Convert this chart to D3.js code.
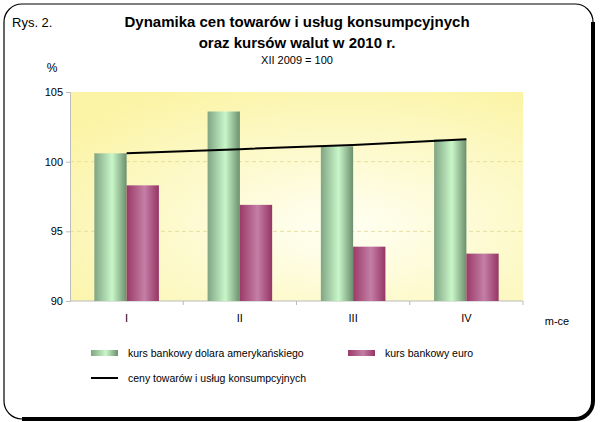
<!DOCTYPE html>
<html>
<head>
<meta charset="utf-8">
<script src="https://cdn.jsdelivr.net/npm/d3@7"></script>
<style>
  body { margin: 0; background: #fff; }
  svg text { font-family: "Liberation Sans", Arial, sans-serif; }
</style>
</head>
<body>
<div id="chart"></div>
<script>
const months = ["I", "II", "III", "IV"]
const usd = [100.6, 103.6, 101.1, 101.6]
const eur = [98.3, 96.9, 93.9, 93.4]
const cpi = [100.6, 100.9, 101.2, 101.6]
const yTicks = [90, 95, 100, 105]

const W = 600, H = 422
const margin = { top: 92, right: 77, bottom: 121, left: 70 }
const width = W - margin.left - margin.right
const height = H - margin.top - margin.bottom

const svg = d3.select('#chart')
    .append('svg')
    .attr('width', W)
    .attr('height', H)

const defs = svg.append('defs')
const bg = defs.append('radialGradient').attr('id', 'bg')
    .attr('cx', '60%').attr('cy', '65%').attr('r', '75%')
bg.append('stop').attr('offset', '0%').attr('stop-color', '#fffff4')
bg.append('stop').attr('offset', '100%').attr('stop-color', '#fbf4a6')

const grad = (id, edge, mid, edge2) => {
    const g = defs.append('linearGradient').attr('id', id)
        .attr('x1', '0%').attr('x2', '100%').attr('y1', '0%').attr('y2', '0%')
    g.append('stop').attr('offset', '0%').attr('stop-color', edge)
    g.append('stop').attr('offset', '55%').attr('stop-color', mid)
    g.append('stop').attr('offset', '100%').attr('stop-color', edge2)
}
grad('green', '#7fa583', '#c9f7c9', '#6b8f6d')
grad('purple', '#9a3a68', '#c47fa6', '#963565')

// frame
svg.append('rect')
    .attr('x', 4).attr('y', 4)
    .attr('width', 589).attr('height', 415)
    .attr('rx', 18)
    .attr('fill', 'none')
    .attr('stroke', '#000')
    .attr('stroke-width', 1.2)
svg.append('path')
    .attr('d', 'M593,22 L593,401 A18,18 0 0 1 575,419 L22,419')
    .attr('fill', 'none')
    .attr('stroke', '#000')
    .attr('stroke-width', 4)

// titles
svg.append('text').attr('x', 12).attr('y', 27)
    .attr('font-size', 13).text('Rys. 2.')
svg.append('text').attr('x', 297).attr('y', 27)
    .attr('text-anchor', 'middle').attr('font-size', 15).attr('font-weight', 'bold')
    .text('Dynamika cen towarów i usług konsumpcyjnych')
svg.append('text').attr('x', 297).attr('y', 48)
    .attr('text-anchor', 'middle').attr('font-size', 15).attr('font-weight', 'bold')
    .text('oraz kursów walut w 2010 r.')
svg.append('text').attr('x', 297).attr('y', 64)
    .attr('text-anchor', 'middle').attr('font-size', 11)
    .text('XII 2009 = 100')
svg.append('text').attr('x', 52).attr('y', 72)
    .attr('text-anchor', 'middle').attr('font-size', 12)
    .text('%')

const g = svg.append('g')
    .attr('transform', `translate(${margin.left}, ${margin.top})`)

const x0 = d3.scaleBand().domain(months).range([0, width])
const groupW = x0.bandwidth() * 0.57
const x1 = d3.scaleBand().domain(['usd', 'eur']).range([0, groupW])
const y = d3.scaleLinear().domain([90, 105]).range([height, 0])

g.append('rect')
    .attr('width', width).attr('height', height)
    .attr('fill', 'url(#bg)')

// gridlines
g.selectAll('.grid')
    .data([95, 100])
    .join('line')
    .attr('x1', 0).attr('x2', width)
    .attr('y1', d => y(d)).attr('y2', d => y(d))
    .attr('stroke', '#e6dfa0')
    .attr('stroke-dasharray', '4,3')

// y axis
const yAxis = g.append('g')
    .call(d3.axisLeft(y).tickValues(yTicks).tickSize(4).tickPadding(3))
yAxis.select('.domain').attr('stroke', '#bbb')
yAxis.selectAll('.tick line').attr('stroke', '#bbb')
yAxis.selectAll('text').attr('font-size', 11).attr('fill', '#000')
    .style('font-family', '"Liberation Sans", Arial, sans-serif')

// x axis with ticks at category boundaries
const xAxisG = g.append('g').attr('transform', `translate(0, ${height})`)
xAxisG.append('line')
    .attr('x1', 0).attr('x2', width)
    .attr('stroke', '#bbb')
xAxisG.selectAll('.bound')
    .data(months.slice(1).concat(['end']))
    .join('line')
    .attr('x1', (d, i) => i < 3 ? x0(d) : width)
    .attr('x2', (d, i) => i < 3 ? x0(d) : width)
    .attr('y1', 0).attr('y2', 4)
    .attr('stroke', '#bbb')
xAxisG.selectAll('.lbl')
    .data(months)
    .join('text')
    .attr('x', d => x0(d) + x0.bandwidth() / 2)
    .attr('y', 21)
    .attr('text-anchor', 'middle')
    .attr('font-size', 11)
    .text(d => d)

svg.append('text').attr('x', 557).attr('y', 325)
    .attr('text-anchor', 'middle').attr('font-size', 11)
    .text('m-ce')

// bars
const groups = g.selectAll('.grp')
    .data(months)
    .join('g')
    .attr('transform', d => `translate(${x0(d) + (x0.bandwidth() - groupW) / 2}, 0)`)

groups.append('rect')
    .attr('x', x1('usd'))
    .attr('width', x1.bandwidth())
    .attr('y', (d, i) => y(usd[i]))
    .attr('height', (d, i) => height - y(usd[i]))
    .attr('fill', 'url(#green)')

groups.append('rect')
    .attr('x', x1('eur'))
    .attr('width', x1.bandwidth())
    .attr('y', (d, i) => y(eur[i]))
    .attr('height', (d, i) => height - y(eur[i]))
    .attr('fill', 'url(#purple)')

// CPI line
g.append('path')
    .datum(cpi)
    .attr('fill', 'none')
    .attr('stroke', '#000')
    .attr('stroke-width', 2)
    .attr('d', d3.line()
        .x((d, i) => x0(months[i]) + x0.bandwidth() / 2)
        .y(d => y(d)))

// legend
const leg = svg.append('g')
leg.append('rect').attr('x', 91).attr('y', 350).attr('width', 27).attr('height', 6)
    .attr('fill', 'url(#green)')
leg.append('text').attr('x', 128).attr('y', 357).attr('font-size', 10.5)
    .text('kurs bankowy dolara amerykańskiego')
leg.append('rect').attr('x', 348).attr('y', 350).attr('width', 27).attr('height', 6)
    .attr('fill', 'url(#purple)')
leg.append('text').attr('x', 385).attr('y', 357).attr('font-size', 10.5)
    .text('kurs bankowy euro')
leg.append('line').attr('x1', 91).attr('x2', 118).attr('y1', 378).attr('y2', 378)
    .attr('stroke', '#000').attr('stroke-width', 2)
leg.append('text').attr('x', 128).attr('y', 382).attr('font-size', 10.5)
    .text('ceny towarów i usług konsumpcyjnych')
</script>
</body>
</html>
